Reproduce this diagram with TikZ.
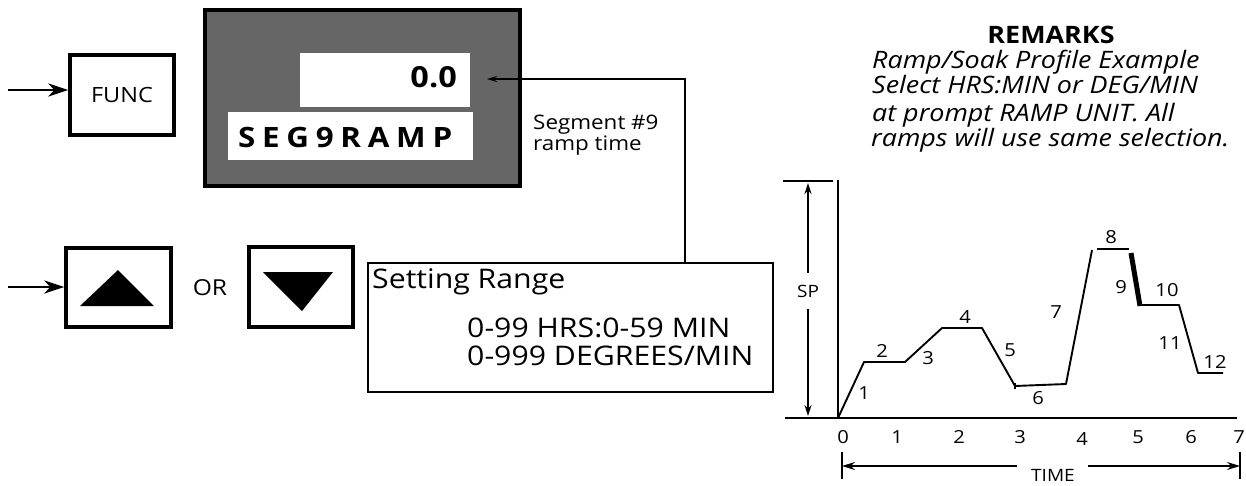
\documentclass[tikz,border=0pt]{standalone}
\usepackage{fontspec}
\setmainfont{Open Sans}[FakeStretch=1.12]
\usetikzlibrary{arrows.meta}
\begin{document}
\begin{tikzpicture}[x=1pt,y=-1pt,
  keybox/.style={draw,line width=3.4pt,inner sep=0pt},
  bigarr/.style={line width=2.6pt,-{Stealth[length=20pt,width=13pt,inset=6pt]}},
  thinline/.style={line width=1.6pt},
  smallarr/.style={line width=1.6pt,-{Stealth[length=10pt,width=6pt]}},
  prof/.style={line width=1.9pt,line join=round},
  lbl/.style={font=\fontsize{18}{20}\selectfont,inner sep=0pt},
  remline/.style={anchor=base west,font=\fontsize{24}{26}\selectfont\itshape},
  rangetxt/.style={anchor=base west,font=\fontsize{27}{30}\selectfont},
  every node/.style={inner sep=0pt}]
\useasboundingbox (0,0) rectangle (1246,485);

% FUNC key
\node[keybox,minimum width=104pt,minimum height=80pt,font=\fontsize{21}{24}\selectfont] (func) at (122,95) {FUNC};
\coordinate (funcin) at (8,90);
\draw[bigarr] (funcin) -- (func.west |- funcin);

% display
\node[draw,line width=3.4pt,fill=black!60,minimum width=315pt,minimum height=176pt] (disp) at (362.5,98) {};
\node[fill=white,minimum width=170pt,minimum height=54pt] (valbox) at (385,80) {};
\node[anchor=base east,font=\fontsize{29}{32}\selectfont\bfseries] (val) at (457,87) {0.0};
\node[fill=white,minimum width=245pt,minimum height=48pt] (segbox) at (350.5,136) {};
\node[anchor=base west,font=\fontsize{28}{32}\selectfont\bfseries] (segtxt) at (238,147)
  {\makebox[214pt][s]{S\hfill E\hfill G\hfill 9\hfill R\hfill A\hfill M\hfill P}};
\coordinate (tip) at (487,79);
\node[anchor=base west,align=left,font=\fontsize{20}{18}\selectfont] (segnote) at (533,150) {Segment \#9\\ramp time};

% up / down keys
\node[keybox,minimum width=105pt,minimum height=79pt] (up) at (118.5,287.5) {};
\fill (118,270) -- (80,306) -- (154,306) -- cycle;
\coordinate (upin) at (8,287);
\draw[bigarr] (upin) -- (up.west |- upin);
\node[font=\fontsize{22}{24}\selectfont] (or) at (210,288) {OR};
\node[keybox,minimum width=104pt,minimum height=80pt] (down) at (301,287) {};
\fill (263,272) -- (333,272) -- (302,311) -- cycle;

% setting range box
\node[draw,line width=1.8pt,minimum width=405pt,minimum height=129pt] (range) at (570.5,327.5) {};
\node[rangetxt] (rt1) at (372,288) {Setting Range};
\node[rangetxt] (rt2) at (467,337) {0-99 HRS:0-59 MIN};
\node[rangetxt] (rt3) at (467,365) {0-999 DEGREES/MIN};

% connector
\coordinate (corner) at (685,79);
\draw[smallarr] (range.north -| corner) -- (corner) -- (tip);

% remarks
\node[anchor=base,font=\fontsize{24}{26}\selectfont\bfseries] (rem) at (1051,43) {REMARKS};
\node[remline] (r1) at (872,68) {Ramp/Soak Profile Example};
\node[remline] (r2) at (872,93) {Select HRS:MIN or DEG/MIN};
\node[remline] (r3) at (872,121) {at prompt RAMP UNIT. All};
\node[remline] (r4) at (871,146) {ramps will use same selection.};

% graph axes
\draw[thinline] (838,180) -- (838,418);
\draw[thinline] (785,418) -- (1237,418);
\draw[thinline] (783,181) -- (833,181);
\node[lbl,font=\fontsize{17}{20}\selectfont] (sp) at (808,291) {SP};
\draw[thinline,-{Stealth[length=11pt,width=7pt]}] (sp.north) ++(0,-12) -- (808,183);
\draw[thinline,-{Stealth[length=11pt,width=7pt]}] (sp.south) ++(0,12) -- (808,416);

% ticks
\foreach \t/\x/\y in {0/843/437,1/897/437,2/959/437,3/1020/437,4/1082/439,5/1138/437,6/1191/437,7/1239/437}
  \node[lbl] (t\t) at (\x,\y) {\t};

% profile
\draw[prof] (838,418) -- (864,362) -- (905,362) -- (942,328) -- (982,328) -- (1015,386) -- (1066,384) -- (1092,250);
\draw[prof] (1015,383) -- (1015,389);
\draw[prof] (1097,249) -- (1129,249);
\draw[line width=5pt] (1131,253) -- (1140,306);
\draw[prof] (1140,305) -- (1179,305) -- (1198,373) -- (1223,373);

\foreach \n/\x/\y in {1/864/393,2/882/351,3/928/358,4/965/317,5/1010/350,6/1038/398,7/1056/312,8/1111/237,9/1121/287,10/1167/290,11/1170/343,12/1215/362}
  \node[lbl] (s\n) at (\x,\y) {\n};

% time arrow
\coordinate (tl) at (842,466);
\coordinate (tr) at (1240,466);
\draw[thinline] (842,452) -- (842,479);
\draw[thinline] (1240,452) -- (1240,479);
\node[lbl,font=\fontsize{17}{20}\selectfont] (time) at (1053,475) {TIME};
\draw[thinline,-{Stealth[length=13pt,width=8pt]}] (1017,466) -- (tl);
\draw[thinline,-{Stealth[length=13pt,width=8pt]}] (1088,466) -- (tr);
\end{tikzpicture}
\end{document}
